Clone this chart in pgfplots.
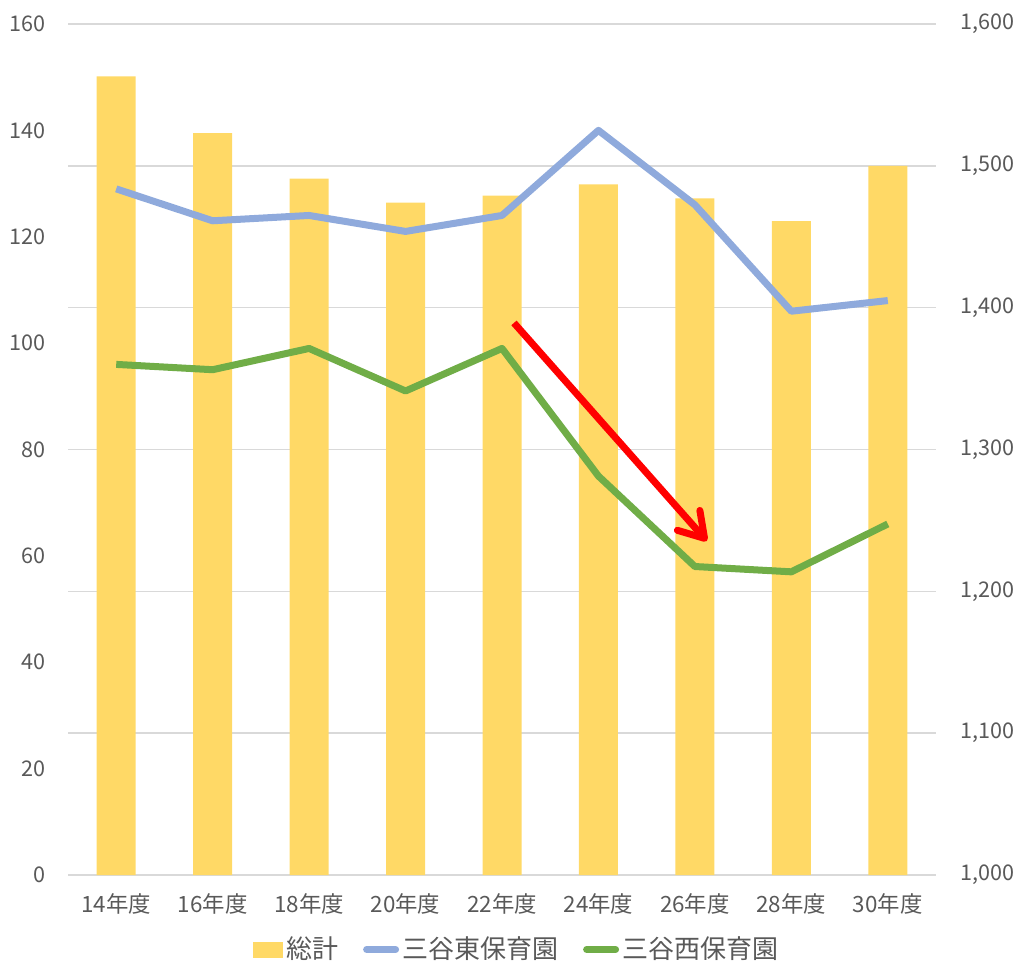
\documentclass[border=0pt]{standalone}
\usepackage{fontspec}
\setmainfont{Noto Sans CJK JP}
\usepackage{pgfplots}
\pgfplotsset{compat=1.18}
\usetikzlibrary{arrows.meta}
\definecolor{barY}{HTML}{FFD966}
\definecolor{lineB}{HTML}{8FAADC}
\definecolor{lineG}{HTML}{70AD47}
\definecolor{gridc}{HTML}{D9D9D9}
\definecolor{txt}{HTML}{595959}
\begin{document}
\begin{tikzpicture}[font=\fontsize{10.8}{12}\selectfont]
\pgfplotsset{
  set layers,
  common/.style={scale only axis, width=434pt, height=425.5pt,
    xmin=-0.5, xmax=8.5,
    axis on top=false,
    axis line style={draw opacity=0},
    major tick length=0pt,
    tick label style={text=txt},
    /pgf/number format/assume math mode=true,
  }
}
\begin{axis}[common, name=bx,
  ymin=1000, ymax=1600, ytick={1000,1100,...,1600},
  yticklabel pos=right, ytick pos=right,
  hide x axis,
  ymajorgrids, major grid style={draw=gridc, line width=0.7pt},
  yticklabel style={/pgf/number format/1000 sep={,}, xshift=8.5pt},
  ybar, bar width=19.5pt]
\addplot[fill=barY, draw=none, bar shift=0pt] coordinates {
(0,1563) (1,1523) (2,1491) (3,1474) (4,1479) (5,1487) (6,1477) (7,1461) (8,1500)};
\end{axis}
\begin{axis}[common, name=ax,
  ymin=0, ymax=160, ytick={0,20,...,160},
  yticklabel pos=left, ytick pos=left, xtick pos=bottom,
  xtick={0,...,8},
  xticklabels={14年度,16年度,18年度,20年度,22年度,24年度,26年度,28年度,30年度},
  xticklabel style={yshift=-6pt, font=\fontsize{11.2}{12}\selectfont},
  yticklabel style={xshift=-7.5pt},
  legend columns=3,
  legend style={at={(0.5175,-0.0875)}, anchor=center, draw=none, fill=none,
    text=txt, font=\fontsize{13}{14}\selectfont,
    /tikz/every even column/.append style={column sep=11pt},
    nodes={inner sep=1.5pt}},
  ]
\addlegendimage{legend image code/.code={\fill[barY] (0pt,-3.75pt) rectangle (14.5pt,3.75pt);}}
\addlegendentry{総計}
\addplot[color=lineB, line width=3.5pt, line join=round,
  legend image code/.code={\draw[lineB, line width=3.5pt, line cap=round] (1.5pt,0pt) -- (16pt,0pt);}]
  coordinates {(0,129) (1,123) (2,124) (3,121) (4,124) (5,140) (6,126) (7,106) (8,108)};
\addlegendentry{三谷東保育園}
\addplot[color=lineG, line width=3.5pt, line join=round,
  legend image code/.code={\draw[lineG, line width=3.5pt, line cap=round] (1.5pt,0pt) -- (16pt,0pt);}]
  coordinates {(0,96) (1,95) (2,99) (3,91) (4,99) (5,75) (6,58) (7,57) (8,66)};
\addlegendentry{三谷西保育園}
\draw[red, line width=3.5pt, -{Straight Barb[length=12pt, width=15pt, round]}]
  (axis cs:4.124,103.8) -- (axis cs:6.124,62.8);
\end{axis}
\pgfresetboundingbox
\path[use as bounding box] ([shift={(-34pt,-43pt)}]ax.south west) rectangle ([shift={(39.5pt,12pt)}]ax.north east);
\end{tikzpicture}
\end{document}
